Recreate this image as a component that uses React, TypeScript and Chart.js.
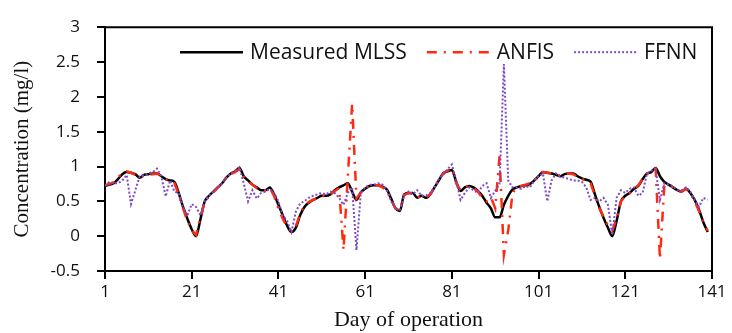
import React, { useEffect, useRef } from "react";
import { Chart, registerables } from "chart.js";

Chart.register(...registerables);

// Day of operation (x categories)
const days: number[] = Array.from({ length: 140 }, (_, i) => i + 1);
const xTicks: number[] = [1, 21, 41, 61, 81, 101, 121, 141];

// Measured MLSS (mg/l)
const measured: number[] = [
  0.72, 0.74, 0.76, 0.82, 0.89, 0.92, 0.91, 0.89, 0.84, 0.88,
  0.89, 0.90, 0.90, 0.86, 0.82, 0.80, 0.78, 0.62, 0.42, 0.25,
  0.10, 0.00, 0.24, 0.50, 0.58, 0.64, 0.70, 0.76, 0.84, 0.90,
  0.93, 0.98, 0.86, 0.80, 0.74, 0.70, 0.66, 0.66, 0.70, 0.60,
  0.45, 0.30, 0.15, 0.06, 0.12, 0.30, 0.42, 0.48, 0.52, 0.55,
  0.58, 0.58, 0.60, 0.66, 0.70, 0.73, 0.76, 0.64, 0.52, 0.63,
  0.68, 0.72, 0.73, 0.73, 0.71, 0.67, 0.54, 0.40, 0.36, 0.60,
  0.62, 0.62, 0.55, 0.58, 0.55, 0.60, 0.70, 0.80, 0.90, 0.93,
  0.95, 0.78, 0.65, 0.70, 0.72, 0.70, 0.65, 0.58, 0.48, 0.40,
  0.27, 0.27, 0.45, 0.58, 0.67, 0.70, 0.72, 0.73, 0.75, 0.80,
  0.86, 0.92, 0.91, 0.90, 0.88, 0.86, 0.89, 0.90, 0.90, 0.86,
  0.83, 0.81, 0.78, 0.60, 0.42, 0.26, 0.12, 0.00, 0.22, 0.50,
  0.58, 0.62, 0.68, 0.72, 0.82, 0.90, 0.92, 0.98, 0.86, 0.78,
  0.74, 0.70, 0.66, 0.64, 0.68, 0.62, 0.52, 0.38, 0.20, 0.06,
];

// ANFIS prediction
const anfis: number[] = [
  0.73, 0.75, 0.77, 0.84, 0.91, 0.93, 0.91, 0.88, 0.85, 0.87,
  0.88, 0.89, 0.90, 0.86, 0.82, 0.79, 0.76, 0.60, 0.40, 0.22,
  0.08, 0.02, 0.26, 0.50, 0.57, 0.63, 0.70, 0.76, 0.85, 0.89,
  0.92, 0.96, 0.86, 0.79, 0.74, 0.69, 0.66, 0.66, 0.69, 0.58,
  0.40, 0.25, 0.13, 0.08, 0.14, 0.32, 0.44, 0.49, 0.52, 0.55,
  0.58, 0.57, 0.60, 0.65, 0.69, -0.20, 0.85, 1.90, 0.54, 0.63,
  0.68, 0.72, 0.73, 0.73, 0.70, 0.66, 0.52, 0.40, 0.37, 0.59,
  0.62, 0.61, 0.56, 0.57, 0.56, 0.60, 0.70, 0.81, 0.90, 0.94,
  0.97, 0.76, 0.66, 0.70, 0.72, 0.69, 0.64, 0.55, 0.50, 0.56,
  0.40, 1.15, -0.27, 0.08, 0.62, 0.70, 0.72, 0.74, 0.76, 0.80,
  0.86, 0.92, 0.91, 0.90, 0.88, 0.87, 0.89, 0.90, 0.89, 0.85,
  0.82, 0.80, 0.76, 0.58, 0.40, 0.28, 0.15, 0.08, 0.25, 0.50,
  0.58, 0.62, 0.68, 0.73, 0.82, 0.89, 0.93, 0.97, -0.33, 0.72,
  0.73, 0.70, 0.66, 0.64, 0.68, 0.62, 0.50, 0.36, 0.20, 0.08,
];

// FFNN prediction
const ffnn: number[] = [
  0.72, 0.78, 0.76, 0.76, 0.80, 0.88, 0.46, 0.66, 0.86, 0.88,
  0.90, 0.92, 0.97, 0.86, 0.57, 0.80, 0.64, 0.62, 0.40, 0.30,
  0.46, 0.42, 0.30, 0.50, 0.58, 0.64, 0.70, 0.76, 0.84, 0.90,
  0.94, 0.99, 0.76, 0.50, 0.66, 0.54, 0.62, 0.64, 0.68, 0.62,
  0.50, 0.30, 0.22, 0.06, 0.35, 0.47, 0.50, 0.55, 0.58, 0.60,
  0.62, 0.60, 0.64, 0.62, 0.55, 0.45, 0.62, 0.70, -0.20, 0.62,
  0.70, 0.74, 0.74, 0.76, 0.74, 0.66, 0.50, 0.40, 0.38, 0.58,
  0.64, 0.60, 0.66, 0.58, 0.58, 0.62, 0.70, 0.82, 0.88, 0.96,
  1.03, 0.80, 0.52, 0.62, 0.70, 0.66, 0.62, 0.72, 0.76, 0.55,
  0.65, 0.75, 2.47, 0.80, 0.70, 0.70, 0.68, 0.72, 0.70, 0.80,
  0.86, 0.90, 0.50, 0.80, 0.90, 0.86, 0.84, 0.82, 0.80, 0.80,
  0.78, 0.70, 0.52, 0.55, 0.50, 0.55, 0.45, 0.02, 0.55, 0.66,
  0.62, 0.68, 0.70, 0.58, 0.62, 0.90, 0.94, 0.96, 0.52, 0.76,
  0.74, 0.72, 0.66, 0.66, 0.70, 0.64, 0.52, 0.42, 0.55, 0.52,
];

const seriesNames: string[] = ["Measured MLSS", "ANFIS", "FFNN"];

const framePlugin = {
  id: "frameAndLegend",
  afterDraw(chart: any) {
    const { ctx, chartArea } = chart;
    ctx.save();
    // frame (top and right)
    ctx.strokeStyle = "#000";
    ctx.lineWidth = 2;
    ctx.setLineDash([]);
    ctx.beginPath();
    ctx.moveTo(chartArea.left, chartArea.top);
    ctx.lineTo(chartArea.right, chartArea.top);
    ctx.lineTo(chartArea.right, chartArea.bottom);
    ctx.stroke();

    // legend
    ctx.font = '21px "Open Sans"';
    ctx.textBaseline = "middle";
    ctx.textAlign = "left";
    let x = chartArea.left + 75;
    const y = chartArea.top + 25;
    chart.data.datasets.forEach((ds: any) => {
      ctx.save();
      ctx.strokeStyle = ds.borderColor;
      ctx.lineWidth = ds.borderWidth;
      ctx.setLineDash(ds.borderDash || []);
      ctx.lineCap = "butt";
      ctx.beginPath();
      ctx.moveTo(x, y);
      ctx.lineTo(x + 63, y);
      ctx.stroke();
      ctx.restore();
      ctx.fillStyle = "#111";
      ctx.fillText(ds.label, x + 70, y + 1);
      x += 70 + ctx.measureText(ds.label).width + 20;
    });
    ctx.restore();
  },
};

export default function App() {
  const canvasRef = useRef<HTMLCanvasElement | null>(null);

  useEffect(() => {
    document.body.style.margin = "0";
    const canvas = canvasRef.current;
    if (!canvas) return;
    const toPts = (arr: number[]) => days.map((d, i) => ({ x: d, y: arr[i] }));
    const chart = new Chart(canvas, {
      type: "line",
      data: {
        datasets: [
          {
            label: seriesNames[0],
            data: toPts(measured),
            borderColor: "#000000",
            borderWidth: 2.5,
            pointRadius: 0,
            cubicInterpolationMode: "monotone",
            order: 3,
          },
          {
            label: seriesNames[1],
            data: toPts(anfis),
            borderColor: "#ff2a10",
            borderWidth: 2.5,
            borderDash: [10, 7, 2, 7],
            pointRadius: 0,
            tension: 0,
            order: 2,
          },
          {
            label: seriesNames[2],
            data: toPts(ffnn),
            borderColor: "#7d4cc4",
            borderWidth: 2,
            borderDash: [2, 2],
            pointRadius: 0,
            tension: 0,
            order: 1,
          },
        ],
      },
      options: {
        animation: false,
        responsive: false,
        devicePixelRatio: 1,
        layout: { padding: { left: 0, right: 20, top: 15, bottom: 0 } },
        plugins: {
          legend: { display: false },
          tooltip: { enabled: false },
        },
        scales: {
          x: {
            type: "linear",
            min: 1,
            max: 141,
            afterBuildTicks: (scale: any) => {
              scale.ticks = xTicks.map((v) => ({ value: v }));
            },
            afterFit: (scale: any) => {
              scale.height = 62;
            },
            grid: {
              drawOnChartArea: false,
              drawTicks: true,
              tickLength: 8,
              color: "#000",
              lineWidth: 2,
            },
            border: { color: "#000", width: 2 },
            ticks: {
              padding: 3,
              color: "#111",
              font: { family: "Open Sans", size: 17 },
              maxRotation: 0,
              autoSkip: false,
              callback: (v: any) => String(Number(v)),
            },
            title: {
              display: true,
              text: "Day of operation",
              color: "#111",
              font: { family: "Liberation Serif", size: 22 },
              padding: { top: 0, bottom: 0 },
            },
          },
          y: {
            type: "linear",
            min: -0.5,
            max: 3,
            afterFit: (scale: any) => {
              scale.width = 105;
            },
            grid: {
              drawOnChartArea: false,
              drawTicks: true,
              tickLength: 8,
              color: "#000",
              lineWidth: 2,
            },
            border: { color: "#000", width: 2 },
            ticks: {
              stepSize: 0.5,
              padding: 17,
              color: "#111",
              font: { family: "Open Sans", size: 17 },
              callback: (v: any) => String(Number(v)),
            },
            title: {
              display: true,
              text: "Concentration (mg/l)",
              color: "#111",
              font: { family: "Liberation Serif", size: 21 },
              padding: { top: 10, bottom: 0 },
            },
          },
        },
      },
      plugins: [framePlugin],
    });
    return () => chart.destroy();
  }, []);

  return (
    <div style={{ width: 732, height: 333 }}>
      <canvas ref={canvasRef} width={732} height={333} style={{ width: 732, height: 333, display: "block" }} />
    </div>
  );
}
